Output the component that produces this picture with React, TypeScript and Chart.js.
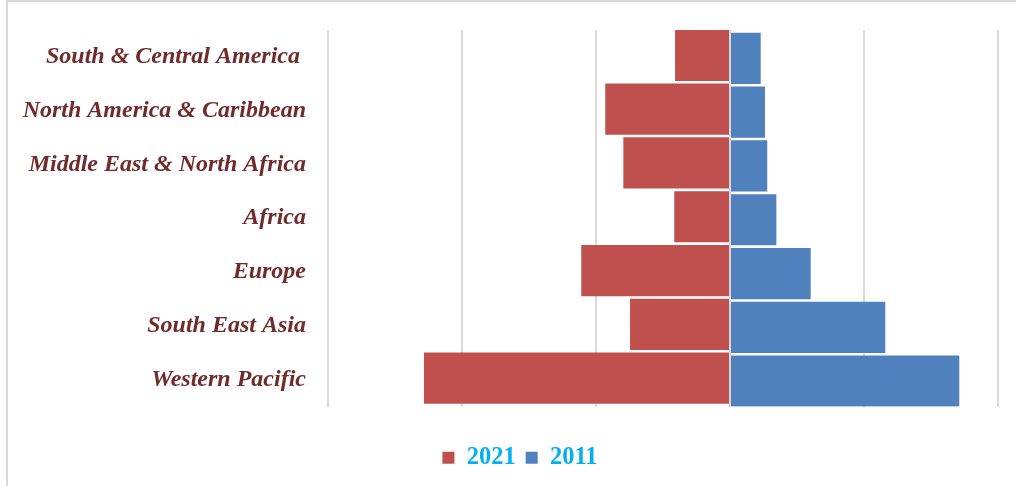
import React, { useEffect, useRef } from "react";
import { Chart, registerables } from "chart.js";

Chart.register(...registerables);

const categories = [
  "South & Central America ",
  "North America & Caribbean",
  "Middle East & North Africa",
  "Africa",
  "Europe",
  "South East Asia",
  "Western Pacific",
];
const seriesNames = ["2021", "2011"];
const values2021 = [-41.0, -93.1, -79.6, -41.6, -111.0, -74.6, -228.4];
const values2011 = [22.9, 26.1, 27.8, 34.6, 60.2, 115.9, 171.1];
const axisMin = -300;
const axisMax = 200;
const axisStep = 100;

const legendShift = {
  id: "legendShift",
  afterLayout(chart: any) {
    const lg = chart.legend;
    if (lg) {
      lg.left += 17;
      lg.right += 17;
    }
  },
};

export default function App() {
  const ref = useRef<HTMLCanvasElement | null>(null);
  useEffect(() => {
    const canvas = ref.current;
    if (!canvas) return;
    const chart = new Chart(canvas, {
      type: "bar",
      data: {
        labels: categories,
        datasets: [
          {
            label: seriesNames[0],
            data: values2021,
            backgroundColor: "#C0504D",
            borderWidth: 0,
            categoryPercentage: 0.112,
            barPercentage: 17,
          },
          {
            label: seriesNames[1],
            data: values2011,
            backgroundColor: "#4F81BD",
            borderWidth: 0,
            categoryPercentage: 0.112,
            barPercentage: 17,
          },
        ],
      },
      plugins: [legendShift],
      options: {
        indexAxis: "y",
        responsive: false,
        animation: false,
        devicePixelRatio: 1,
        layout: { padding: { left: 8, right: 18, top: 30, bottom: 6 } },
        scales: {
          x: {
            min: axisMin,
            max: axisMax,
            ticks: { display: false, stepSize: axisStep },
            grid: { color: "#D9D9D9", lineWidth: 2, drawTicks: false },
            border: { display: false },
            afterFit: (s: any) => {
              s.height = 29;
              s.paddingLeft = 0;
              s.paddingRight = 0;
            },
          },
          y: {
            grid: { display: false, drawTicks: false },
            border: { display: false },
            ticks: {
              color: "#722B2B",
              padding: 22,
              font: { family: "'Liberation Serif', 'Times New Roman', serif", size: 24, weight: "bold", style: "italic" },
            },
            afterFit: (s: any) => {
              s.width = 320;
              s.paddingTop = 0;
              s.paddingBottom = 0;
            },
          },
        },
        plugins: {
          tooltip: { enabled: false },
          legend: {
            position: "bottom",
            labels: {
              boxWidth: 12,
              boxHeight: 12,
              padding: 10,
              color: "#00B0F0",
              font: { family: "'Liberation Serif', 'Times New Roman', serif", size: 24.5, weight: "bold" },
            },
          },
        },
      },
    });
    return () => chart.destroy();
  }, []);
  return (
    <div style={{ position: "absolute", left: 0, top: 0, width: 1016, height: 486, background: "#fff" }}>
      <div
        style={{
          position: "absolute",
          left: 6,
          top: 0,
          width: 1010,
          height: 486,
          borderLeft: "2px solid #D9D9D9",
          borderTop: "2px solid #D9D9D9",
          boxSizing: "border-box",
        }}
      />
      <canvas ref={ref} width={1016} height={486} style={{ position: "absolute", left: 0, top: 0 }} />
    </div>
  );
}
